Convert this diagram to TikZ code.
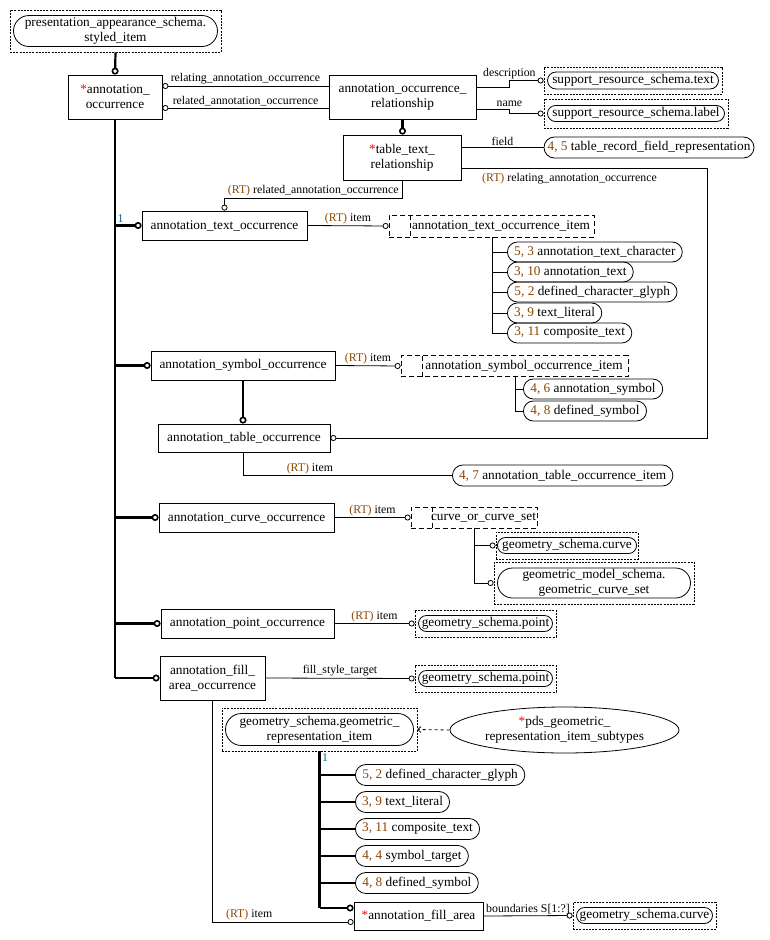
\documentclass[tikz,border=0pt]{standalone}
\usepackage{fontspec}
\setmainfont{Liberation Serif}
\usetikzlibrary{arrows.meta, positioning, shapes.misc, shapes.geometric}
\definecolor{rtbrown}{RGB}{140,70,0}
\definecolor{onecol}{RGB}{0,102,153}
\newcommand{\rt}{\textcolor{rtbrown}{(RT)}}
\newcommand{\nr}[1]{\textcolor{rtbrown}{#1}}
\newcommand{\st}{\textcolor{red}{*}}
\newcommand{\entfont}{\fontsize{13.3}{15}\selectfont}
\newcommand{\labfont}{\fontsize{11.8}{13}\selectfont}
% external reference: dashed box with rounded box inside
\newcommand{\xref}[6]{%
  \node[xbox, minimum width=#3, minimum height=#4] (#1) at (#2) {};
  \node[rnd, minimum width=#3-3, minimum height=#5] at (#1) {#6};
}
\tikzset{
  ent/.style={draw, rectangle, inner sep=1pt, align=center, font=\entfont},
  rnd/.style={draw, rounded rectangle, inner xsep=2pt, inner ysep=1pt, align=center, font=\entfont, solid},
  item/.style={rnd, anchor=west, inner xsep=5pt},
  xbox/.style={draw, rectangle, inner sep=0pt, dash pattern=on 2pt off 1.2pt},
  selbox/.style={draw, rectangle, inner sep=1pt, font=\entfont, dash pattern=on 5pt off 3pt,
    execute at begin node={\hspace*{19pt}},
    path picture={\draw[dash pattern=on 5pt off 3pt] ([xshift=21pt]path picture bounding box.north west) -- ([xshift=21pt]path picture bounding box.south west);}},
  lab/.style={font=\labfont, inner sep=1.5pt},
  rel/.style={-{Circle[open, length=6pt, width=6pt]}},
  trunk/.style={line width=2.2pt},
  sub/.style={line width=2.2pt, -{Circle[open, length=7pt, width=7pt, line width=1.6pt]}},
}
\begin{document}
\begin{tikzpicture}[x=1pt, y=-1pt, line width=0.8pt]
        \useasboundingbox (0,0) rectangle (769,940);
        % supertypes and entities
        \xref{psi}{115.5,31}{211}{42}{31}{presentation\_appearance\_schema.\\styled\_item}
        \node[ent, minimum width=94, minimum height=44] (ao) at (115,97) {\st annotation\_\\occurrence};
        \node[ent, minimum width=147, minimum height=44] (aor) at (402.5,97) {annotation\_occurrence\_\\relationship};
        \xref{srtext}{633,80.5}{178}{27}{17}{support\_resource\_schema.text}
        \xref{srlabel}{636,113.5}{184}{29}{16}{support\_resource\_schema.label}
        \node[ent, minimum width=118, minimum height=45] (ttr) at (402,157.5) {\st table\_text\_\\relationship};
        \node[rnd, minimum width=214, minimum height=21] (trfr) at (649,147.5) {\nr{4, 5} table\_record\_field\_representation};

        % text occurrence
        \node[ent, minimum width=165, minimum height=29] (ato) at (224.5,225.5) {annotation\_text\_occurrence};
        \node[selbox, minimum width=205, minimum height=22] (atoi) at (491.5,226) {annotation\_text\_occurrence\_item};
        \node[item, minimum height=20] (ti1) at (507,252) {\nr{5, 3} annotation\_text\_character};
        \node[item, minimum height=20] (ti2) at (507,272) {\nr{3, 10} annotation\_text};
        \node[item, minimum height=20] (ti3) at (507,292) {\nr{5, 2} defined\_character\_glyph};
        \node[item, minimum height=20] (ti4) at (507,313) {\nr{3, 9} text\_literal};
        \node[item, minimum height=20] (ti5) at (507,333) {\nr{3, 11} composite\_text};

        % symbol and table occurrence
        \node[ent, minimum width=184, minimum height=29] (aso) at (243,365.5) {annotation\_symbol\_occurrence};
        \node[selbox, minimum width=227, minimum height=21] (asoi) at (514.5,366) {annotation\_symbol\_occurrence\_item};
        \node[item, minimum height=20] (si1) at (523,389) {\nr{4, 6} annotation\_symbol};
        \node[item, minimum height=20] (si2) at (523,411) {\nr{4, 8} defined\_symbol};
        \node[ent, minimum width=172, minimum height=28] (atab) at (244,438) {annotation\_table\_occurrence};
        \node[item, minimum height=21] (atabi) at (452,475.5) {\nr{4, 7} annotation\_table\_occurrence\_item};

        % curve, point and fill area occurrence
        \node[ent, minimum width=175, minimum height=29] (aco) at (246.5,517.5) {annotation\_curve\_occurrence};
        \node[selbox, minimum width=126, minimum height=21] (cocs) at (474,517.5) {curve\_or\_curve\_set};
        \xref{gcurve}{567,545.5}{142}{27}{16}{geometry\_schema.curve}
        \xref{gcs}{594,583}{200}{42}{30}{geometric\_model\_schema.\\geometric\_curve\_set}
        \node[ent, minimum width=173, minimum height=29] (apo) at (247.5,623.5) {annotation\_point\_occurrence};
        \xref{gpointa}{485.5,623.5}{141}{27}{16}{geometry\_schema.point}
        \node[ent, minimum width=105, minimum height=44] (afao) at (212.5,678) {annotation\_fill\_\\area\_occurrence};
        \xref{gpointb}{485.5,678.5}{141}{27}{16}{geometry\_schema.point}

        % geometric representation item
        \xref{gri}{319.5,729.5}{195}{43}{32}{geometry\_schema.geometric\_\\representation\_item}
        \node[draw, ellipse, inner sep=0pt, minimum width=229, minimum height=46, align=center, font=\entfont] (pds) at (564.5,730) {\st pds\_geometric\_\\representation\_item\_subtypes};
        \node[item, minimum height=21] (gr1) at (355,775) {\nr{5, 2} defined\_character\_glyph};
        \node[item, minimum height=21] (gr2) at (355,802) {\nr{3, 9} text\_literal};
        \node[item, minimum height=21] (gr3) at (355,829) {\nr{3, 11} composite\_text};
        \node[item, minimum height=21] (gr4) at (355,856) {\nr{4, 4} symbol\_target};
        \node[item, minimum height=21] (gr5) at (355,883) {\nr{4, 8} defined\_symbol};
        \node[ent, minimum width=129, minimum height=28] (afa) at (418.5,916) {\st annotation\_fill\_area};
        \xref{gcurveb}{644.5,915.5}{143}{27}{16}{geometry\_schema.curve}

        % connectors at the top
        \draw[sub] (psi.south) -- (ao.north);
        \draw[rel] (aor.west |- 0,86) -- node[lab, above] {relating\_annotation\_occurrence} (ao.east |- 0,86);
        \draw[rel] (aor.west |- 0,108) -- node[lab, above] {related\_annotation\_occurrence} (ao.east |- 0,108);
        \draw[rel] (aor.east |- 0,87) -- ++(33,0) |- node[lab, above, pos=0.5] {description} (srtext.west);
        \draw[rel] (aor.east |- 0,109) -- ++(33,0) node[lab, above] {name} |- (srlabel.west);
        \draw[sub] (aor.south) -- (aor.south |- ttr.north);
        \draw (ttr.east |- 0,147.5) -- node[lab, above] {field} (trfr.west);
        \draw[rel] (ttr.east |- 0,168) -- node[lab, below=3pt, pos=0.44] {\rt{} relating\_annotation\_occurrence} (707,168) |- (atab.east);
        \draw[rel] (ttr.south) -- ++(0,18) -| node[lab, above, pos=0.25] {\rt{} related\_annotation\_occurrence} (ato.north);

        % supertype tree of annotation_occurrence
        \draw[trunk] (ao.south) -- (ao.south |- afao.west);
        \draw[sub] (ao.south |- ato.west) node[lab, above right, text=onecol] {1} -- (ato.west);
        \foreach \e in {aso, aco, apo, afao}
            \draw[sub] (ao.south |- \e.west) -- (\e.west);

        % selects and their items
        \draw[rel] (ato.east) -- node[lab, above] {\rt{} item} (atoi.west);
        \foreach \c in {ti1, ti2, ti3, ti4, ti5}
            \draw (atoi.south -| ti1.west) ++(-15,0) |- (\c.west);
        \draw[rel] (aso.east) -- node[lab, above] {\rt{} item} (asoi.west);
        \foreach \c in {si1, si2}
            \draw (asoi.south -| si1.west) ++(-8,0) |- (\c.west);
        \draw[sub] (aso.south) -- (aso.south |- atab.north);
        \draw (aso.south |- atab.south) |- node[lab, above, pos=0.66] {\rt{} item} (atabi.west);
        \draw[rel] (aco.east) -- node[lab, above] {\rt{} item} (cocs.west);
        \draw[rel] (cocs.south) |- (gcurve.west);
        \draw[rel] (cocs.south) |- (gcs.west);
        \draw[rel] (apo.east) -- node[lab, above] {\rt{} item} (gpointa.west);
        \draw[rel] (afao.east) -- node[lab, above] {fill\_style\_target} (gpointb.west);
        \draw[rel] (afao.south) |- node[lab, above, pos=0.63] {\rt{} item} ([yshift=-6pt]afa.west);

        % geometric representation item tree
        \draw[dashed, -{Straight Barb[length=3pt, width=6pt]}] (pds.west) -- (gri.east);
        \draw[trunk] (gri.south) node[lab, below right, text=onecol] {1} -- (gri.south |- 0,908);
        \foreach \c in {gr1, gr2, gr3, gr4, gr5}
            \draw[trunk] (gri.south |- \c.west) -- (\c.west);
        \draw[sub] (gri.south |- 0,908) -- ([yshift=8pt]afa.west);
        \draw[rel] (afa.east) -- node[lab, above] {boundaries S[1:?]} (gcurveb.west);
    \end{tikzpicture}
\end{document}
